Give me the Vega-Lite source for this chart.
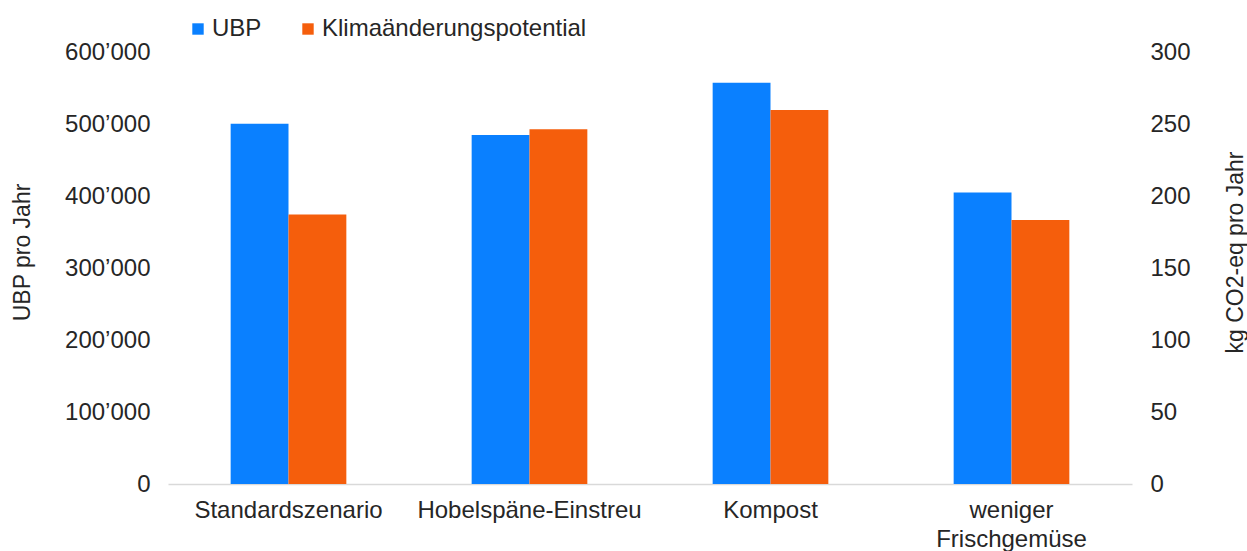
{
  "$schema": "https://vega.github.io/schema/vega-lite/v6.json",
  "autosize": "none",
  "width": 964,
  "height": 432,
  "padding": {"left": 168, "top": 52, "right": 115, "bottom": 67},
  "background": "white",
  "config": {
    "view": {"stroke": null},
    "font": "Liberation Sans",
    "locale": {"number": {"decimal": ".", "thousands": "’", "grouping": [3], "currency": ["", ""]}},
    "axis": {"labelColor": "#262626", "titleColor": "#262626", "labelFont": "Liberation Sans", "titleFont": "Liberation Sans", "titleFontWeight": "normal", "grid": false, "ticks": false}
  },
  "data": {
    "values": [
      {"cat": "Standardszenario", "series": "UBP", "value": 500500},
      {"cat": "Standardszenario", "series": "Klimaänderungspotential", "value": 187.2},
      {"cat": "Hobelspäne-Einstreu", "series": "UBP", "value": 484600},
      {"cat": "Hobelspäne-Einstreu", "series": "Klimaänderungspotential", "value": 246.3},
      {"cat": "Kompost", "series": "UBP", "value": 557300},
      {"cat": "Kompost", "series": "Klimaänderungspotential", "value": 259.7},
      {"cat": "weniger Frischgemüse", "series": "UBP", "value": 404900},
      {"cat": "weniger Frischgemüse", "series": "Klimaänderungspotential", "value": 183.4}
    ]
  },
  "encoding": {
    "x": {
      "field": "cat",
      "type": "nominal",
      "sort": null,
      "scale": {"paddingInner": 0.52, "paddingOuter": 0.26},
      "axis": {
        "title": null,
        "labelAngle": 0,
        "labelFontSize": 24,
        "labelPadding": 14,
        "labelLimit": 400,
        "labelLineHeight": 29,
        "domainColor": "#d9d9d9",
        "domainWidth": 1.5,
        "labelExpr": "datum.label == 'weniger Frischgemüse' ? ['weniger', 'Frischgemüse'] : datum.label"
      }
    },
    "xOffset": {
      "field": "series",
      "type": "nominal",
      "scale": {"domain": ["UBP", "Klimaänderungspotential"], "paddingInner": 0, "paddingOuter": 0}
    },
    "color": {
      "field": "series",
      "type": "nominal",
      "scale": {"domain": ["UBP", "Klimaänderungspotential"], "range": ["#0A80FF", "#F55E0C"]},
      "legend": {
        "title": null,
        "orient": "none",
        "legendX": 18,
        "legendY": -35,
        "direction": "horizontal",
        "symbolType": "square",
        "symbolSize": 130,
        "symbolStrokeWidth": 0,
        "labelFontSize": 24,
        "labelColor": "#262626",
        "labelFont": "Liberation Sans",
        "labelOffset": 2,
        "columnPadding": 34,
        "labelLimit": 400
      }
    }
  },
  "layer": [
    {
      "transform": [{"filter": "datum.series == 'UBP'"}],
      "mark": {"type": "bar"},
      "encoding": {
        "y": {
          "field": "value",
          "type": "quantitative",
          "scale": {"domain": [0, 600000], "nice": false},
          "axis": {
            "orient": "left",
            "title": "UBP pro Jahr",
            "values": [0, 100000, 200000, 300000, 400000, 500000, 600000],
            "format": ",d",
            "domain": false,
            "labelFontSize": 24,
            "labelPadding": 18,
            "titleFontSize": 23,
            "titleAngle": -90,
            "titleX": -146,
            "titleY": 200,
            "titleAlign": "center",
            "titleBaseline": "middle"
          }
        }
      }
    },
    {
      "transform": [{"filter": "datum.series == 'Klimaänderungspotential'"}],
      "mark": {"type": "bar"},
      "encoding": {
        "y": {
          "field": "value",
          "type": "quantitative",
          "scale": {"domain": [0, 300], "nice": false},
          "axis": {
            "orient": "right",
            "title": "kg CO2-eq pro Jahr",
            "values": [0, 50, 100, 150, 200, 250, 300],
            "domain": false,
            "labelFontSize": 24,
            "labelPadding": 18,
            "titleFontSize": 23,
            "titleAngle": -90,
            "titleX": 103,
            "titleY": 200,
            "titleAlign": "center",
            "titleBaseline": "middle"
          }
        }
      }
    }
  ],
  "resolve": {"scale": {"y": "independent"}}
}
